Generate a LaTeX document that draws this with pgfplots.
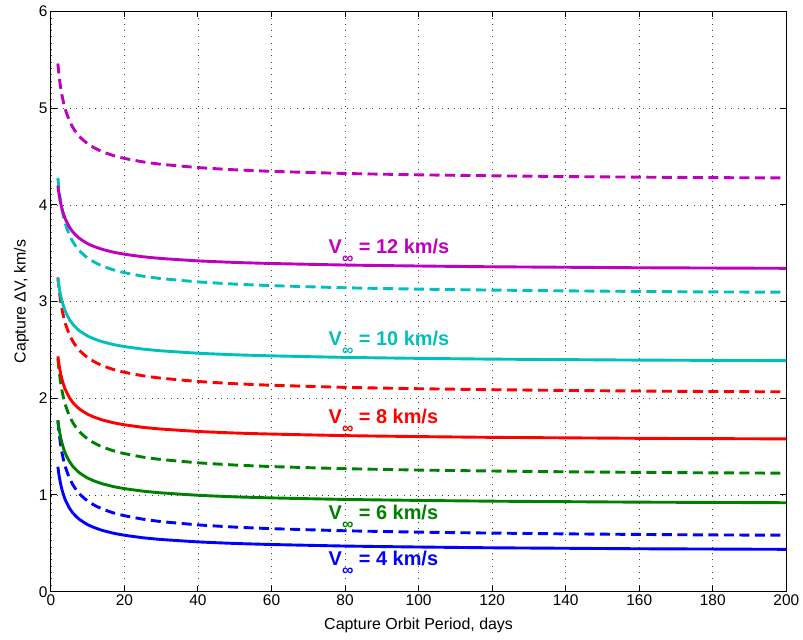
\documentclass[border=0pt]{standalone}
\usepackage{pgfplots}
\pgfplotsset{compat=1.18}
\usepackage{pgfplotstable}
\usepackage{fontspec}
\setmainfont{Liberation Sans}

\definecolor{mblue}{rgb}{0,0,1}
\definecolor{mgreen}{rgb}{0,0.5,0}
\definecolor{mred}{rgb}{1,0,0}
\definecolor{mcyan}{rgb}{0,0.75,0.75}
\definecolor{mmag}{rgb}{0.75,0,0.75}

\pgfplotstableread{
x   s4    d4    s6    d6    s8    d8    s10   d10   s12   d12
1.9 1.292 1.767 1.774 2.409 2.434 3.250 3.243 4.280 4.198 5.462
2.2 1.209 1.651 1.691 2.293 2.351 3.134 3.160 4.164 4.115 5.346
2.6 1.123 1.533 1.605 2.175 2.265 3.016 3.074 4.046 4.029 5.228
3   1.057 1.441 1.539 2.083 2.199 2.924 3.008 3.954 3.963 5.136
3.5 0.993 1.352 1.475 1.994 2.135 2.835 2.944 3.865 3.899 5.047
4   0.942 1.282 1.424 1.924 2.084 2.765 2.893 3.795 3.848 4.977
5   0.867 1.178 1.349 1.820 2.009 2.661 2.818 3.691 3.773 4.873
6   0.813 1.104 1.295 1.746 1.955 2.587 2.764 3.617 3.719 4.799
7   0.773 1.047 1.255 1.689 1.915 2.530 2.724 3.560 3.679 4.742
8   0.741 1.003 1.223 1.645 1.883 2.486 2.692 3.516 3.647 4.698
10  0.693 0.937 1.175 1.579 1.835 2.420 2.644 3.450 3.599 4.632
12  0.660 0.891 1.142 1.533 1.802 2.374 2.611 3.404 3.566 4.586
14  0.634 0.855 1.116 1.497 1.776 2.338 2.585 3.368 3.540 4.550
17  0.605 0.815 1.087 1.457 1.747 2.298 2.556 3.328 3.511 4.510
20  0.584 0.786 1.066 1.428 1.726 2.269 2.535 3.299 3.490 4.481
25  0.558 0.750 1.040 1.392 1.700 2.233 2.509 3.263 3.464 4.445
30  0.540 0.725 1.022 1.367 1.682 2.208 2.491 3.238 3.446 4.420
40  0.515 0.691 0.997 1.333 1.657 2.174 2.466 3.204 3.421 4.386
50  0.499 0.668 0.981 1.310 1.641 2.151 2.450 3.181 3.405 4.363
60  0.488 0.652 0.970 1.294 1.630 2.135 2.439 3.165 3.394 4.347
80  0.472 0.630 0.954 1.272 1.614 2.113 2.423 3.143 3.378 4.325
100 0.462 0.616 0.944 1.258 1.604 2.099 2.413 3.129 3.368 4.311
120 0.454 0.606 0.936 1.248 1.596 2.089 2.405 3.119 3.360 4.301
140 0.449 0.598 0.931 1.240 1.591 2.081 2.400 3.111 3.355 4.293
160 0.444 0.592 0.926 1.234 1.586 2.075 2.395 3.105 3.350 4.287
180 0.441 0.587 0.923 1.229 1.583 2.070 2.392 3.100 3.347 4.282
200 0.438 0.584 0.920 1.226 1.580 2.067 2.389 3.097 3.344 4.279
}\data

\newcommand{\vinf}[2]{\textcolor{#1}{V\raisebox{-10bp}{\fontsize{16}{16}\selectfont ∞} = #2 km/s}}

\begin{document}
\begin{tikzpicture}
\begin{axis}[
  name=main,
  scale only axis,
  width=735.4bp, height=580.2bp,
  xmin=0, xmax=200, ymin=0, ymax=6,
  xtick={0,20,...,200}, ytick={0,1,...,6},
  grid=major,
  major grid style={black!75, line width=0.6bp, dash pattern=on 0.8bp off 5.5bp},
  axis line style={black, line width=1.2bp},
  tick style={black, line width=1bp},
  major tick length=6bp,
  tick align=inside,
  /pgf/number format/assume math mode=true,
  ticklabel style={font=\fontsize{15.5}{18}\selectfont},
  label style={font=\fontsize{16}{19}\selectfont},
  xlabel={Capture Orbit Period, days},
  ylabel={Capture ΔV, km/s},
  xlabel style={yshift=-5bp},
  ylabel style={yshift=3bp},
  every axis plot/.append style={line width=2.9bp, smooth, tension=0.3},
]
\addplot[mblue] table[x=x,y=s4]{\data};
\addplot[mblue, dash pattern=on 10bp off 5.5bp] table[x=x,y=d4]{\data};
\addplot[mgreen] table[x=x,y=s6]{\data};
\addplot[mgreen, dash pattern=on 10bp off 5.5bp] table[x=x,y=d6]{\data};
\addplot[mred] table[x=x,y=s8]{\data};
\addplot[mred, dash pattern=on 10bp off 5.5bp] table[x=x,y=d8]{\data};
\addplot[mcyan] table[x=x,y=s10]{\data};
\addplot[mcyan, dash pattern=on 10bp off 5.5bp] table[x=x,y=d10]{\data};
\addplot[mmag] table[x=x,y=s12]{\data};
\addplot[mmag, dash pattern=on 10bp off 5.5bp] table[x=x,y=d12]{\data};

\begin{scope}[every node/.style={anchor=base west, inner sep=0pt, font=\bfseries\fontsize{20}{20}\selectfont}]
\node at (axis cs:75.5,3.499) {\vinf{mmag}{12}};
\node at (axis cs:75.5,2.551) {\vinf{mcyan}{10}};
\node at (axis cs:75.5,1.741) {\vinf{mred}{8}};
\node at (axis cs:75.5,0.749) {\vinf{mgreen}{6}};
\node at (axis cs:75.5,0.276) {\vinf{mblue}{4}};
\end{scope}
\end{axis}
\path (main.south west) ++(-50.9bp,-48.3bp) coordinate (bl);
\path (main.north east) ++(16.7bp,11.5bp) coordinate (tr);
\pgfresetboundingbox
\path[use as bounding box] (bl) rectangle (tr);
\end{tikzpicture}
\end{document}
